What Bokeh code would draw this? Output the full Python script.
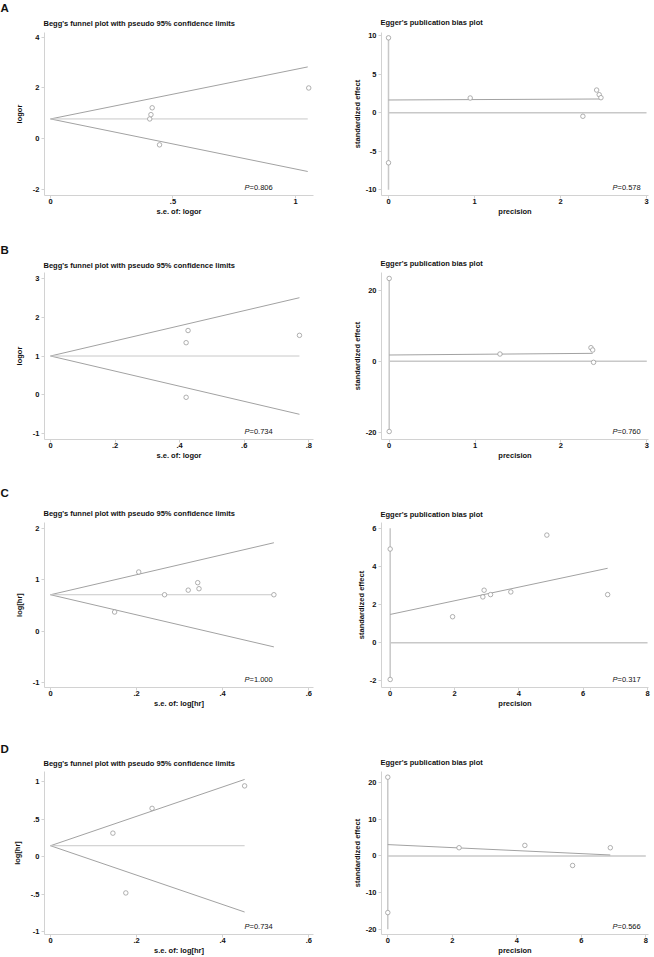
from bokeh.plotting import figure
from bokeh.layouts import column, row
from bokeh.models import Range1d, FixedTicker, Label, Title
from bokeh.embed import file_html
from bokeh.resources import INLINE

FONT = "Liberation Sans"
AXC = "#d2d2d2"
LINE_DARK = "#a2a2a2"
LINE_LIGHT = "#c8c8c8"
MARK = "#9c9c9c"
TXT = "#111111"

# ---------------- Panel A ----------------
a_begg_se = [0.405, 0.41, 0.415, 0.445, 1.054]
a_begg_eff = [0.78, 0.95, 1.22, -0.24, 2.0]
a_begg_line_se = [0.0, 1.05]
a_begg_theta = [0.78, 0.78]
a_begg_upper = [0.78, 2.83]
a_begg_lower = [0.78, -1.29]
a_begg_p = "=0.806"
a_begg_xticks = [0, 0.5, 1]
a_begg_xtlab = ["0", ".5", "1"]
a_begg_yticks = [-2, 0, 2, 4]
a_begg_ytlab = ["-2", "0", "2", "4"]

a_egg_prec = [0, 0, 0.95, 2.26, 2.42, 2.45, 2.47]
a_egg_std = [9.7, -6.5, 1.9, -0.47, 2.93, 2.33, 1.94]
a_egg_fit_x = [0, 2.47]
a_egg_fit_y = [1.64, 1.77]
a_egg_zero_x = [0, 3]
a_egg_vline = [-10, 9.7]
a_egg_p = "=0.578"
a_egg_xticks = [0, 1, 2, 3]
a_egg_xtlab = ["0", "1", "2", "3"]
a_egg_yticks = [-10, -5, 0, 5, 10]
a_egg_ytlab = ["-10", "-5", "0", "5", "10"]

# ---------------- Panel B ----------------
b_begg_se = [0.42, 0.42, 0.426, 0.771]
b_begg_eff = [-0.07, 1.345, 1.66, 1.535]
b_begg_line_se = [0.0, 0.771]
b_begg_theta = [1.0, 1.0]
b_begg_upper = [1.0, 2.51]
b_begg_lower = [1.0, -0.51]
b_begg_p = "=0.734"
b_begg_xticks = [0, 0.2, 0.4, 0.6, 0.8]
b_begg_xtlab = ["0", ".2", ".4", ".6", ".8"]
b_begg_yticks = [-1, 0, 1, 2, 3]
b_begg_ytlab = ["-1", "0", "1", "2", "3"]

b_egg_prec = [0, 0, 1.29, 2.35, 2.37, 2.38]
b_egg_std = [23.4, -19.8, 2.07, 3.86, 3.2, -0.28]
b_egg_fit_x = [0, 2.37]
b_egg_fit_y = [1.79, 2.26]
b_egg_zero_x = [0, 3]
b_egg_vline = [-20, 23.4]
b_egg_p = "=0.760"
b_egg_xticks = [0, 1, 2, 3]
b_egg_xtlab = ["0", "1", "2", "3"]
b_egg_yticks = [-20, 0, 20]
b_egg_ytlab = ["-20", "0", "20"]

# ---------------- Panel C ----------------
c_begg_se = [0.149, 0.205, 0.265, 0.32, 0.342, 0.345, 0.519]
c_begg_eff = [0.372, 1.155, 0.71, 0.80, 0.946, 0.828, 0.71]
c_begg_line_se = [0.0, 0.519]
c_begg_theta = [0.71, 0.71]
c_begg_upper = [0.71, 1.727]
c_begg_lower = [0.71, -0.31]
c_begg_p = "=1.000"
c_begg_xticks = [0, 0.2, 0.4, 0.6]
c_begg_xtlab = ["0", ".2", ".4", ".6"]
c_begg_yticks = [-1, 0, 1, 2]
c_begg_ytlab = ["-1", "0", "1", "2"]

c_egg_prec = [0, 0, 1.94, 2.88, 2.92, 3.12, 3.75, 4.87, 6.76]
c_egg_std = [4.91, -1.93, 1.36, 2.40, 2.75, 2.52, 2.66, 5.64, 2.52]
c_egg_fit_x = [0, 6.76]
c_egg_fit_y = [1.48, 3.90]
c_egg_zero_x = [0, 8]
c_egg_vline = [-2, 6]
c_egg_p = "=0.317"
c_egg_xticks = [0, 2, 4, 6, 8]
c_egg_xtlab = ["0", "2", "4", "6", "8"]
c_egg_yticks = [-2, 0, 2, 4, 6]
c_egg_ytlab = ["-2", "0", "2", "4", "6"]

# ---------------- Panel D ----------------
d_begg_se = [0.145, 0.175, 0.236, 0.451]
d_begg_eff = [0.313, -0.485, 0.644, 0.944]
d_begg_line_se = [0.0, 0.451]
d_begg_theta = [0.145, 0.145]
d_begg_upper = [0.145, 1.03]
d_begg_lower = [0.145, -0.74]
d_begg_p = "=0.734"
d_begg_xticks = [0, 0.2, 0.4, 0.6]
d_begg_xtlab = ["0", ".2", ".4", ".6"]
d_begg_yticks = [-1, -0.5, 0, 0.5, 1]
d_begg_ytlab = ["-1", "-.5", "0", ".5", "1"]

d_egg_prec = [0, 0, 2.21, 4.25, 5.73, 6.9]
d_egg_std = [21.5, -15.45, 2.25, 2.88, -2.6, 2.25]
d_egg_fit_x = [0, 6.9]
d_egg_fit_y = [3.1, 0.27]
d_egg_zero_x = [0, 8]
d_egg_vline = [-20, 21.5]
d_egg_p = "=0.566"
d_egg_xticks = [0, 2, 4, 6, 8]
d_egg_xtlab = ["0", "2", "4", "6", "8"]
d_egg_yticks = [-20, -10, 0, 10, 20]
d_egg_ytlab = ["-20", "-10", "0", "10", "20"]

BEGG_TITLE = "Begg's funnel plot with pseudo 95% confidence limits"
EGG_TITLE = "Egger's publication bias plot"

# layout: (height, top border, bottom border)
ROWS = [(240, 32, 45), (240, 32, 41), (237, 42, 30), (240, 54, 21)]
BEGG_TITLE_SO = [6, 2, 5, 4]
LETTER_SO = [0, 4, 12, 0]
EGG_TITLE_SO = [8, 5, 3, 5]


def make_title(text, standoff, size="7.5px", offset=-1):
    return Title(text=text, align="left", offset=offset, standoff=standoff,
                 vertical_align="top", text_font=FONT, text_font_style="bold",
                 text_font_size=size, text_color=TXT)


def style(p, xticks, xtlab, yticks, ytlab, xlabel, ylabel, ylab_standoff):
    p.outline_line_color = None
    p.grid.visible = False
    p.background_fill_color = "white"
    p.border_fill_color = "white"
    p.xaxis.ticker = FixedTicker(ticks=xticks)
    p.xaxis.major_label_overrides = dict(zip(xticks, xtlab))
    p.yaxis.ticker = FixedTicker(ticks=yticks)
    p.yaxis.major_label_overrides = dict(zip(yticks, ytlab))
    p.xaxis.axis_label = xlabel
    p.yaxis.axis_label = ylabel
    for ax in p.axis:
        ax.axis_line_color = AXC
        ax.major_tick_line_color = AXC
        ax.minor_tick_line_color = None
        ax.major_tick_out = 3
        ax.major_tick_in = 0
        ax.major_label_text_font = FONT
        ax.major_label_text_font_style = "bold"
        ax.major_label_text_font_size = "7.5px"
        ax.major_label_text_color = TXT
        ax.axis_label_text_font = FONT
        ax.axis_label_text_font_style = "bold"
        ax.axis_label_text_font_size = "7.5px"
        ax.axis_label_text_color = TXT
    p.xaxis.major_label_standoff = 0
    p.xaxis.axis_label_standoff = 0
    p.yaxis.major_label_standoff = 2
    p.yaxis.axis_label_standoff = ylab_standoff


def p_label(p, xr, yr, ptext, left_off):
    p.add_layout(Label(x=xr[1], y=yr[0], text="P", text_font=FONT, text_font_style="italic",
                       text_font_size="7.5px", text_color=TXT, text_align="left",
                       text_baseline="middle", x_offset=left_off, y_offset=8.5))
    p.add_layout(Label(x=xr[1], y=yr[0], text=ptext, text_font=FONT,
                       text_font_size="7.5px", text_color=TXT, text_align="left",
                       text_baseline="middle", x_offset=left_off + 5, y_offset=8.5))


def begg(rowi, letter, xr, yr, se, eff, lse, theta, upper, lower, ptext,
         xticks, xtlab, yticks, ytlab, xlabel, ylabel):
    h, top, bot = ROWS[rowi]
    p = figure(width=327, height=h, x_range=Range1d(start=xr[0], end=xr[1]),
               y_range=Range1d(start=yr[0], end=yr[1]), output_backend="svg",
               toolbar_location=None,
               title=make_title(letter, LETTER_SO[rowi], size="11.5px", offset=-44),
               min_border_left=44, min_border_right=14, min_border_top=top, min_border_bottom=bot)
    p.add_layout(make_title(BEGG_TITLE, BEGG_TITLE_SO[rowi]), "above")
    style(p, xticks, xtlab, yticks, ytlab, xlabel, ylabel, 6)
    p.line(lse, upper, line_color=LINE_DARK, line_width=1)
    p.line(lse, lower, line_color=LINE_DARK, line_width=1)
    p.line(lse, theta, line_color=LINE_LIGHT, line_width=1)
    p.scatter(se, eff, marker="circle", size=4.5, fill_color="white", line_color=MARK, line_width=0.8)
    p_label(p, xr, yr, ptext, -69)
    return p


def egger(rowi, xr, yr, prec, std, fx, fy, zx, vline, ptext,
          xticks, xtlab, yticks, ytlab):
    h, top, bot = ROWS[rowi]
    p = figure(width=327, height=h, x_range=Range1d(start=xr[0], end=xr[1]),
               y_range=Range1d(start=yr[0], end=yr[1]), output_backend="svg",
               toolbar_location=None, title=make_title(EGG_TITLE, EGG_TITLE_SO[rowi]),
               min_border_left=54, min_border_right=6, min_border_top=top, min_border_bottom=bot)
    style(p, xticks, xtlab, yticks, ytlab, "precision", "standardized effect", 1)
    p.line(zx, [0, 0], line_color=LINE_LIGHT, line_width=1.5)
    p.line([0, 0], vline, line_color=LINE_LIGHT, line_width=1.5)
    p.line(fx, fy, line_color=LINE_DARK, line_width=1)
    p.scatter(prec, std, marker="circle", size=4.5, fill_color="white", line_color=MARK, line_width=0.8)
    p_label(p, xr, yr, ptext, -36)
    return p


pa1 = begg(0, "A", (-0.0245, 1.0735), (-2.236, 4.186), a_begg_se, a_begg_eff, a_begg_line_se,
           a_begg_theta, a_begg_upper, a_begg_lower, a_begg_p, a_begg_xticks, a_begg_xtlab,
           a_begg_yticks, a_begg_ytlab, "s.e. of: logor", "logor")
pa2 = egger(0, (-0.0814, 3.023), (-10.74, 10.39), a_egg_prec, a_egg_std, a_egg_fit_x, a_egg_fit_y,
            a_egg_zero_x, a_egg_vline, a_egg_p, a_egg_xticks, a_egg_xtlab, a_egg_yticks, a_egg_ytlab)

pb1 = begg(1, "B", (-0.0186, 0.8145), (-1.163, 3.163), b_begg_se, b_begg_eff, b_begg_line_se,
           b_begg_theta, b_begg_upper, b_begg_lower, b_begg_p, b_begg_xticks, b_begg_xtlab,
           b_begg_yticks, b_begg_ytlab, "s.e. of: logor", "logor")
pb2 = egger(1, (-0.0897, 3.02), (-22.06, 25.08), b_egg_prec, b_egg_std, b_egg_fit_x, b_egg_fit_y,
            b_egg_zero_x, b_egg_vline, b_egg_p, b_egg_xticks, b_egg_xtlab, b_egg_yticks, b_egg_ytlab)

pc1 = begg(2, "C", (-0.0139, 0.611), (-1.104, 2.123), c_begg_se, c_begg_eff, c_begg_line_se,
           c_begg_theta, c_begg_upper, c_begg_lower, c_begg_p, c_begg_xticks, c_begg_xtlab,
           c_begg_yticks, c_begg_ytlab, "s.e. of: log[hr]", "log[hr]")
pc2 = egger(2, (-0.27, 8.03), (-2.35, 6.30), c_egg_prec, c_egg_std, c_egg_fit_x, c_egg_fit_y,
            c_egg_zero_x, c_egg_vline, c_egg_p, c_egg_xticks, c_egg_xtlab, c_egg_yticks, c_egg_ytlab)

pd1 = begg(3, "D", (-0.0139, 0.611), (-1.040, 1.136), d_begg_se, d_begg_eff, d_begg_line_se,
           d_begg_theta, d_begg_upper, d_begg_lower, d_begg_p, d_begg_xticks, d_begg_xtlab,
           d_begg_yticks, d_begg_ytlab, "s.e. of: log[hr]", "log[hr]")
pd2 = egger(3, (-0.195, 8.084), (-21.43, 23.05), d_egg_prec, d_egg_std, d_egg_fit_x, d_egg_fit_y,
            d_egg_zero_x, d_egg_vline, d_egg_p, d_egg_xticks, d_egg_xtlab, d_egg_yticks, d_egg_ytlab)

layout = column(row(pa1, pa2), row(pb1, pb2), row(pc1, pc2), row(pd1, pd2))

open("out.html", "w").write(file_html(layout, INLINE))
